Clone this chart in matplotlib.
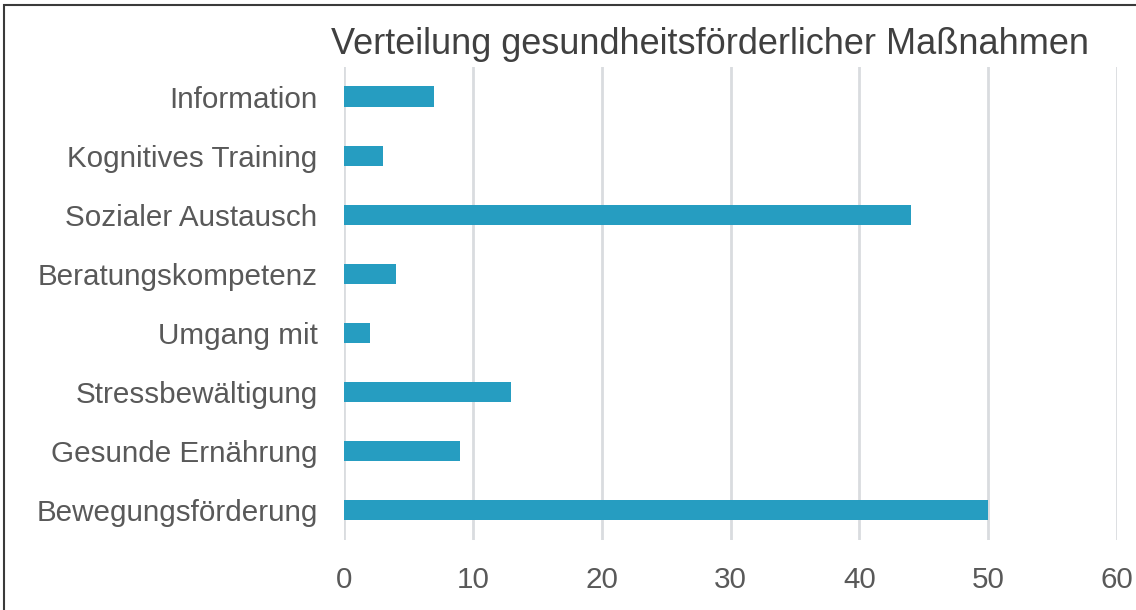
import matplotlib.pyplot as plt
from matplotlib.patches import Rectangle

# --- data (top to bottom as in the chart) ---
categories = ["Information", "Kognitives Training", "Sozialer Austausch",
              "Beratungskompetenz", "Umgang mit", "Stressbewältigung",
              "Gesunde Ernährung", "Bewegungsförderung"]
values = [7, 3, 44, 4, 2, 13, 9, 50]
x_ticks = [0, 10, 20, 30, 40, 50, 60]
title = "Verteilung gesundheitsförderlicher Maßnahmen"

plt.rcParams['font.family'] = ['Liberation Sans', 'DejaVu Sans']

fig = plt.figure(figsize=(11.36, 6.1), dpi=100)
ax = fig.add_axes([0.3028, 0.1148, 0.6805, 0.7754])

# bars, first category on top
pos = list(range(len(categories)))[::-1]
ax.barh(pos, values, height=0.34, color="#269dc1", zorder=3)

ax.set_xlim(0, 60)
ax.set_ylim(-0.5, len(categories) - 0.5)
ax.set_xticks(x_ticks)
ax.set_yticks(pos)
ax.set_yticklabels(categories)

# vertical gridlines only
ax.grid(axis="x", color="#d9dcdf", linewidth=2, zorder=0)
ax.grid(axis="y", visible=False)
for s in ax.spines.values():
    s.set_visible(False)
ax.tick_params(axis="both", length=0, labelsize=21.3, labelcolor="#595959")
ax.tick_params(axis="x", pad=19)
ax.tick_params(axis="y", pad=19)

fig.text(710 / 1136, 1 - 45 / 610, title, ha="center", va="center",
         fontsize=26, color="#404040")

# thin frame around the chart
fig.patches.append(Rectangle((4 / 1136, -0.1), 1.2, 1 - 5 / 610 + 0.1,
                             transform=fig.transFigure, fill=False,
                             edgecolor="#3a3a3a", linewidth=1.5))

fig.savefig("out.png", dpi=100)
